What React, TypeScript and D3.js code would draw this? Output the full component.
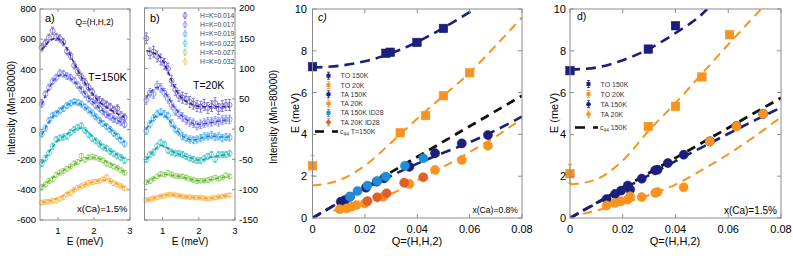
import React from "react";
import * as d3 from "d3";

const FONT = "'Liberation Sans', Arial, Helvetica, sans-serif";

// ---------- Panels a / b : constant-Q scans ----------
const energy = [0.55, 0.65, 0.75, 0.85, 0.95, 1.05, 1.15, 1.25, 1.35, 1.45, 1.55, 1.65, 1.75, 1.85, 1.95, 2.05, 2.15, 2.25, 2.35, 2.45, 2.55, 2.65, 2.75, 2.85];
const hkLabels = ["H=K=0.014", "H=K=0.017", "H=K=0.019", "H=K=0.022", "H=K=0.027", "H=K=0.032"];
const markerColors = ["#6a5ac6", "#7c80f0", "#4eaef0", "#45c8c8", "#95d266", "#f9ba55"];
const fitColors = ["#35279a", "#4449d6", "#1c84d8", "#17a3ab", "#60b43a", "#f3a02c"];

// T = 150 K (panel a)
const a014 = [545, 575, 610, 655, 615, 605, 580, 520, 490, 425, 385, 350, 315, 280, 250, 205, 195, 180, 165, 150, 130, 140, 95, 80];
const a017 = [170, 235, 280, 320, 345, 375, 370, 355, 345, 325, 295, 265, 235, 205, 185, 160, 140, 120, 100, 85, 70, 60, 50, 35];
const a019 = [-30, 10, 60, 95, 105, 125, 140, 160, 175, 185, 180, 170, 150, 130, 110, 85, 60, 40, 20, 0, -25, -45, -70, -95];
const a022 = [-225, -190, -155, -110, -65, -55, -50, -45, -20, 0, 15, 25, -5, -35, -60, -75, -95, -115, -125, -145, -160, -175, -185, -205];
const a027 = [-380, -365, -340, -330, -300, -285, -275, -260, -245, -225, -215, -175, -200, -185, -180, -185, -195, -205, -225, -235, -245, -255, -270, -285];
const a032 = [-485, -480, -478, -472, -470, -460, -450, -430, -420, -400, -385, -375, -365, -355, -350, -345, -340, -330, -315, -340, -355, -365, -375, -390];
const fitA014 = [530, 560, 585, 600, 605, 598, 575, 535, 490, 440, 395, 350, 310, 275, 240, 210, 185, 165, 148, 132, 118, 105, 92, 80];
const fitA017 = [165, 225, 275, 315, 345, 360, 362, 355, 340, 320, 295, 268, 240, 212, 188, 165, 142, 122, 104, 88, 74, 62, 50, 40];
const fitA019 = [-35, 10, 50, 85, 110, 130, 148, 162, 172, 178, 176, 165, 148, 128, 108, 86, 64, 44, 24, 4, -18, -40, -62, -85];
const fitA022 = [-225, -190, -150, -115, -85, -60, -45, -30, -15, -2, 8, 10, 0, -20, -45, -70, -92, -112, -128, -142, -155, -168, -180, -195];
const fitA027 = [-380, -360, -340, -320, -302, -287, -272, -258, -244, -230, -216, -204, -195, -188, -185, -187, -193, -202, -213, -226, -240, -254, -268, -282];
const fitA032 = [-485, -480, -475, -468, -460, -450, -438, -425, -412, -398, -386, -375, -365, -356, -349, -343, -338, -335, -336, -342, -352, -362, -373, -385];
const errA = [24, 22, 20, 20, 16, 14];

// T = 20 K (panel b)
const b014 = [150, 125, 128, 120, 115, 108, 100, 80, 65, 55, 52, 50, 45, 42, 38, 37, 40, 35, 38, 43, 33, 38, 40, 40];
const b017 = [48, 60, 58, 72, 68, 60, 50, 40, 30, 25, 20, 15, 12, 10, 6, 8, 10, 12, 12, 14, 12, 15, 16, 16];
const b019 = [-3, 8, 18, 25, 28, 25, 22, 10, 0, -5, -12, -15, -17, -18, -17, -15, -12, -12, -10, -13, -12, -15, -13, -14];
const b022 = [-50, -42, -38, -28, -22, -25, -35, -38, -40, -40, -42, -45, -48, -50, -52, -52, -48, -45, -42, -50, -42, -42, -42, -40];
const b027 = [-88, -86, -82, -78, -74, -75, -72, -75, -77, -78, -78, -80, -82, -84, -86, -85, -85, -84, -82, -80, -82, -80, -76, -78];
const b032 = [-117, -116, -114, -113, -111, -110, -108, -108, -109, -110, -111, -112, -112, -113, -113, -113, -114, -115, -114, -113, -112, -111, -110, -109];
const fitB014 = [130, 128, 126, 123, 118, 108, 95, 80, 67, 57, 50, 46, 43, 40, 38, 37, 37, 37, 37, 37, 37, 37, 37, 37];
const fitB017 = [52, 60, 66, 69, 68, 62, 53, 43, 34, 27, 21, 16, 12, 9, 8, 8, 9, 10, 11, 12, 13, 14, 15, 15];
const fitB019 = [0, 10, 18, 23, 25, 23, 17, 9, 1, -6, -11, -15, -17, -18, -17, -15, -13, -12, -12, -12, -13, -13, -13, -13];
const fitB022 = [-50, -43, -36, -30, -27, -28, -32, -36, -39, -41, -43, -45, -47, -49, -51, -51, -50, -48, -46, -45, -44, -43, -42, -41];
const fitB027 = [-88, -85, -81, -78, -76, -75, -75, -76, -77, -78, -79, -81, -82, -84, -85, -85, -85, -84, -83, -82, -81, -80, -79, -78];
const fitB032 = [-117, -116, -114, -112, -110, -109, -108, -108, -109, -110, -111, -112, -112, -113, -113, -113, -114, -114, -114, -113, -112, -111, -110, -109];
const errB = [9, 7, 6, 5, 3.5, 2.5];

// ---------- Panel c : x(Ca) = 0.8% ----------
const fitQ = [0, 0.01, 0.02, 0.03, 0.04, 0.05, 0.06, 0.07, 0.08];
const cTO150Q = [0, 0.028, 0.0297, 0.0399, 0.05];
const cTO150E = [7.24, 7.88, 7.93, 8.4, 9.07];
const cTO20Q = [0, 0.0335, 0.0432, 0.05, 0.06];
const cTO20E = [2.5, 4.08, 4.9, 5.85, 6.95];
const cTO20Err = [0.48, 0.12, 0.12, 0.12, 0.12];
const cTA150Q = [0.0108, 0.0124, 0.0143, 0.0204, 0.0245, 0.0273, 0.037, 0.0468, 0.057, 0.067];
const cTA150E = [0.78, 0.86, 1.02, 1.45, 1.74, 1.9, 2.45, 3.1, 3.57, 3.97];
const cTA20Q = [0.0104, 0.013, 0.0149, 0.0168, 0.02, 0.027, 0.037, 0.0468, 0.057, 0.067];
const cTA20E = [0.42, 0.46, 0.54, 0.62, 0.7, 1.02, 1.63, 2.3, 2.78, 3.46];
const cID150Q = [0.0143, 0.0172, 0.021, 0.0247, 0.028, 0.0353, 0.0423];
const cID150E = [1.02, 1.29, 1.55, 1.77, 1.98, 2.5, 2.86];
const cID20Q = [0.021, 0.0247, 0.0283, 0.035, 0.0423];
const cID20E = [0.81, 0.99, 1.18, 1.69, 1.95];
const cFitTO150Q = [0, 0.01, 0.02, 0.03, 0.04, 0.05, 0.06, 0.0625];
const cFitTO150E = [7.2, 7.28, 7.5, 7.88, 8.42, 9.1, 9.85, 10.05];
const cFitTO20E = [1.55, 1.8, 2.5, 3.6, 4.75, 5.85, 6.95, 8.25, 9.6];
const cFitTA150E = [0, 0.73, 1.42, 2.02, 2.6, 3.12, 3.62, 4.2, 4.85];
const cFitTA20Q = [0.008, 0.02, 0.03, 0.04, 0.05, 0.06, 0.07, 0.08];
const cFitTA20E = [0.35, 0.72, 1.15, 1.8, 2.45, 3.15, 3.9, 4.75];
const cC44Q = [0, 0.08];
const cC44E = [0, 5.85];
const cLegend = ["TO 150K", "TO 20K", "TA 150K", "TA 20K", "TA 150K ID28", "TA 20K ID28"];

// ---------- Panel d : x(Ca) = 1.5% ----------
const dTO150Q = [0, 0.0297, 0.04];
const dTO150E = [7.05, 8.08, 9.2];
const dTO20Q = [0, 0.0297, 0.04, 0.05, 0.0605];
const dTO20E = [2.12, 4.38, 5.34, 6.75, 8.77];
const dTO20Err = [0.45, 0.12, 0.12, 0.12, 0.12];
const dTA150Q = [0.0139, 0.0171, 0.0194, 0.0219, 0.0228, 0.0272, 0.0323, 0.0332, 0.0371, 0.0431, 0.053, 0.0631, 0.0732];
const dTA150E = [0.91, 1.15, 1.31, 1.55, 1.36, 1.88, 2.28, 2.31, 2.63, 3.03, 3.67, 4.4, 4.98];
const dTA20Q = [0.0139, 0.0171, 0.0194, 0.0219, 0.0228, 0.0272, 0.0323, 0.0332, 0.0431, 0.053, 0.0631, 0.0732];
const dTA20E = [0.6, 0.72, 0.8, 0.88, 1.04, 1.0, 1.2, 1.24, 1.47, 3.67, 4.38, 4.98];
const dFitTO150Q = [0, 0.01, 0.02, 0.03, 0.04, 0.05, 0.052];
const dFitTO150E = [7.1, 7.2, 7.55, 8.1, 8.85, 9.75, 10.0];
const dFitTO20Q = [0, 0.01, 0.02, 0.03, 0.04, 0.05, 0.06, 0.0725];
const dFitTO20E = [1.6, 1.85, 2.75, 4.2, 5.5, 6.9, 8.3, 10.0];
const dFitTA150E = [0, 0.7, 1.38, 2.05, 2.72, 3.38, 4.03, 4.67, 5.28];
const dFitTA20Q = [0.005, 0.01, 0.02, 0.03, 0.04, 0.05, 0.06, 0.07, 0.08];
const dFitTA20E = [0.2, 0.35, 0.7, 1.1, 1.6, 2.3, 3.05, 3.9, 4.83];
const dC44Q = [0, 0.08];
const dC44E = [0, 5.75];
const dLegend = ["TO 150K", "TO 20K", "TA 150K", "TA 20K"];

const NAVY = "#1b1f7c";
const ORANGE = "#f8931f";
const LBLUE = "#1f8dd6";
const RED = "#df5f26";
const AXIS = "#8c8c8c";

type Sc = d3.ScaleLinear<number, number>;

function Frame({ xs, ys, xTicks, yTicks, len }: { xs: Sc; ys: Sc; xTicks: number[]; yTicks: number[]; len: number }) {
  const [x0, x1] = xs.range();
  const [y1, y0] = ys.range();
  return (
    <g stroke={AXIS} strokeWidth={1} fill="none">
      <rect x={x0} y={y0} width={x1 - x0} height={y1 - y0} />
      {xTicks.map((t, i) => (
        <g key={"x" + i}>
          <line x1={xs(t)} x2={xs(t)} y1={y1} y2={y1 - len} />
          <line x1={xs(t)} x2={xs(t)} y1={y0} y2={y0 + len} />
        </g>
      ))}
      {yTicks.map((t, i) => (
        <g key={"y" + i}>
          <line x1={x0} x2={x0 + len} y1={ys(t)} y2={ys(t)} />
          <line x1={x1} x2={x1 - len} y1={ys(t)} y2={ys(t)} />
        </g>
      ))}
    </g>
  );
}

function ScanPanel({ xs, ys, data, fits, errs, id }: { xs: Sc; ys: Sc; data: number[][]; fits: number[][]; errs: number[]; id: string }) {
  const line = d3.line<number>().x((_, i) => xs(energy[i])).y((v) => ys(v)).curve(d3.curveMonotoneX);
  return (
    <g>
      {data.map((ser, s) => (
        <g key={id + s} stroke={markerColors[s]} fill="none" strokeWidth={0.8}>
          {ser.map((v, i) => {
            const cx = xs(energy[i]);
            const cy = ys(v);
            const e = Math.abs(ys(v + errs[s]) - cy);
            return (
              <g key={i}>
                <line x1={cx} x2={cx} y1={cy - e} y2={cy + e} />
                <line x1={cx - 1.5} x2={cx + 1.5} y1={cy - e} y2={cy - e} />
                <line x1={cx - 1.5} x2={cx + 1.5} y1={cy + e} y2={cy + e} />
                <circle cx={cx} cy={cy} r={2.5} />
              </g>
            );
          })}
        </g>
      ))}
      {fits.map((f, s) => (
        <path key={"f" + s} d={line(f) || ""} stroke={fitColors[s]} strokeWidth={1.6} strokeDasharray="4 2.5" fill="none" />
      ))}
    </g>
  );
}

function Dots({ xs, ys, q, e, color, shape, err }: { xs: Sc; ys: Sc; q: number[]; e: number[]; color: string; shape: "sq" | "ci"; err?: number[] }) {
  return (
    <g fill={color} stroke={color}>
      {q.map((v, i) => {
        const cx = xs(v);
        const cy = ys(e[i]);
        const er = err ? Math.abs(ys(e[i] + err[i]) - cy) : 0;
        return (
          <g key={i}>
            {er > 0 && (
              <g strokeWidth={1}>
                <line x1={cx} x2={cx} y1={cy - er} y2={cy + er} />
                <line x1={cx - 2} x2={cx + 2} y1={cy - er} y2={cy - er} />
                <line x1={cx - 2} x2={cx + 2} y1={cy + er} y2={cy + er} />
              </g>
            )}
            {shape === "sq" ? (
              <rect x={cx - 4.3} y={cy - 4.3} width={8.6} height={8.6} strokeWidth={0.5} />
            ) : (
              <circle cx={cx} cy={cy} r={4.6} strokeWidth={0.5} />
            )}
          </g>
        );
      })}
    </g>
  );
}

function Curve({ xs, ys, q, e, color, width, dash, clip }: { xs: Sc; ys: Sc; q: number[]; e: number[]; color: string; width: number; dash: string; clip: string }) {
  const line = d3.line<number>().x((v) => xs(v)).y((_, i) => ys(e[i])).curve(d3.curveMonotoneX);
  return <path d={line(q) || ""} stroke={color} strokeWidth={width} strokeDasharray={dash} fill="none" clipPath={`url(#${clip})`} />;
}

function LegendRow({ x, y, color, shape, label }: { x: number; y: number; color: string; shape: "sq" | "ci"; label: string }) {
  return (
    <g>
      <g stroke={color} strokeWidth={0.8}>
        <line x1={x} x2={x} y1={y - 3.5} y2={y + 3.5} />
        <line x1={x - 1.5} x2={x + 1.5} y1={y - 3.5} y2={y - 3.5} />
        <line x1={x - 1.5} x2={x + 1.5} y1={y + 3.5} y2={y + 3.5} />
      </g>
      {shape === "sq" ? (
        <rect x={x - 2} y={y - 2} width={4} height={4} fill={color} />
      ) : (
        <circle cx={x} cy={y} r={2.3} fill={color} />
      )}
      <text x={x + 12} y={y + 2.5} fontSize={7} fill="#333" fontFamily={FONT}>{label}</text>
    </g>
  );
}

export default function App() {
  const xsA = d3.scaleLinear().domain([0.5, 3]).range([40, 130]);
  const ysA = d3.scaleLinear().domain([-600, 800]).range([220, 9]);
  const xsB = d3.scaleLinear().domain([0.5, 3]).range([144.5, 235]);
  const ysB = d3.scaleLinear().domain([-150, 200]).range([220, 8]);
  const xsC = d3.scaleLinear().domain([0, 0.08]).range([312.5, 522]);
  const ysC = d3.scaleLinear().domain([0, 10]).range([218, 9]);
  const xsD = d3.scaleLinear().domain([0, 0.08]).range([570, 781]);
  const ysD = d3.scaleLinear().domain([0, 10]).range([218, 9]);

  const yTicksA = d3.range(-600, 801, 200);
  const yTicksB = d3.range(-150, 201, 50);
  const eTicks = [1, 2, 3];
  const qTicks = [0, 0.02, 0.04, 0.06, 0.08];
  const eTicksC = [0, 2, 4, 6, 8, 10];
  const fmtQ = (v: number) => (v === 0 ? "0" : d3.format(".2f")(v));

  const dataA = [a014, a017, a019, a022, a027, a032];
  const fitsA = [fitA014, fitA017, fitA019, fitA022, fitA027, fitA032];
  const dataB = [b014, b017, b019, b022, b027, b032];
  const fitsB = [fitB014, fitB017, fitB019, fitB022, fitB027, fitB032];

  const cColors = [NAVY, ORANGE, NAVY, ORANGE, LBLUE, RED];
  const cShapes: ("sq" | "ci")[] = ["sq", "sq", "ci", "ci", "ci", "ci"];

  return (
    <svg width={793} height={256} style={{ position: "absolute", left: 0, top: 0, display: "block" }} fontFamily={FONT}>
      <defs>
        <clipPath id="clipC"><rect x={312.5} y={9} width={209.5} height={209} /></clipPath>
        <clipPath id="clipD"><rect x={570} y={9} width={211} height={209} /></clipPath>
      </defs>
      <rect x={0} y={0} width={793} height={256} fill="#fff" />

      {/* ---- Panel a ---- */}
      <ScanPanel xs={xsA} ys={ysA} data={dataA} fits={fitsA} errs={errA} id="a" />
      <Frame xs={xsA} ys={ysA} xTicks={eTicks} yTicks={yTicksA} len={3} />
      {yTicksA.map((t) => (
        <text key={t} x={36} y={ysA(t) + 3.3} fontSize={9.5} textAnchor="end">{t}</text>
      ))}
      {eTicks.map((t) => (
        <text key={t} x={xsA(t)} y={233.5} fontSize={9.5} textAnchor="middle">{t}</text>
      ))}
      <text x={85} y={245} fontSize={10} textAnchor="middle">E (meV)</text>
      <text transform="translate(14.5,108) rotate(-90)" fontSize={10} textAnchor="middle">Intensity (Mn=80000)</text>
      <text x={45} y={22} fontSize={11}>a)</text>
      <text x={75.5} y={25} fontSize={8.3}>Q=(H,H,2)</text>
      <text x={88} y={81} fontSize={11}>T=150K</text>
      <text x={77} y={212} fontSize={9.5}>x(Ca)=1.5%</text>

      {/* ---- Panel b ---- */}
      <ScanPanel xs={xsB} ys={ysB} data={dataB} fits={fitsB} errs={errB} id="b" />
      <Frame xs={xsB} ys={ysB} xTicks={eTicks} yTicks={yTicksB} len={3} />
      {yTicksB.map((t) => (
        <text key={t} x={239} y={ysB(t) + 3.3} fontSize={9.5} textAnchor="start">{t}</text>
      ))}
      {eTicks.map((t) => (
        <text key={t} x={xsB(t)} y={233.5} fontSize={9.5} textAnchor="middle">{t}</text>
      ))}
      <text x={190} y={245} fontSize={10} textAnchor="middle">E (meV)</text>
      <text transform="translate(277,117) rotate(-90)" fontSize={10} textAnchor="middle">Intensity (Mn=80000)</text>
      <text x={150} y={22} fontSize={11}>b)</text>
      <text x={193} y={89} fontSize={10.5}>T=20K</text>
      {hkLabels.map((lab, i) => {
        const y = 15.5 + i * 9.2;
        const x = 185;
        const c = markerColors[i];
        return (
          <g key={lab}>
            <g stroke={c} strokeWidth={0.7} fill="none">
              <line x1={x} x2={x} y1={y - 3.2} y2={y + 3.2} />
              <line x1={x - 1.3} x2={x + 1.3} y1={y - 3.2} y2={y - 3.2} />
              <line x1={x - 1.3} x2={x + 1.3} y1={y + 3.2} y2={y + 3.2} />
              <circle cx={x} cy={y} r={2} />
            </g>
            <text x={200} y={y + 2.4} fontSize={6.8} fill="#444">{lab}</text>
          </g>
        );
      })}

      {/* ---- Panel c ---- */}
      <Curve xs={xsC} ys={ysC} q={cC44Q} e={cC44E} color="#111" width={2.8} dash="9 6" clip="clipC" />
      <Curve xs={xsC} ys={ysC} q={cFitTO150Q} e={cFitTO150E} color={NAVY} width={2.6} dash="10 6" clip="clipC" />
      <Curve xs={xsC} ys={ysC} q={fitQ} e={cFitTO20E} color={ORANGE} width={2} dash="9 6" clip="clipC" />
      <Curve xs={xsC} ys={ysC} q={fitQ} e={cFitTA150E} color={NAVY} width={2.6} dash="10 6" clip="clipC" />
      <Curve xs={xsC} ys={ysC} q={cFitTA20Q} e={cFitTA20E} color={ORANGE} width={2} dash="9 6" clip="clipC" />
      <Dots xs={xsC} ys={ysC} q={cTO150Q} e={cTO150E} color={NAVY} shape="sq" />
      <Dots xs={xsC} ys={ysC} q={cTO20Q} e={cTO20E} color={ORANGE} shape="sq" err={cTO20Err} />
      <Dots xs={xsC} ys={ysC} q={cTA150Q} e={cTA150E} color={NAVY} shape="ci" />
      <Dots xs={xsC} ys={ysC} q={cTA20Q} e={cTA20E} color={ORANGE} shape="ci" />
      <Dots xs={xsC} ys={ysC} q={cID150Q} e={cID150E} color={LBLUE} shape="ci" />
      <Dots xs={xsC} ys={ysC} q={cID20Q} e={cID20E} color={RED} shape="ci" />
      <Frame xs={xsC} ys={ysC} xTicks={qTicks} yTicks={eTicksC} len={4} />
      {eTicksC.map((t) => (
        <text key={t} x={307} y={ysC(t) + 4} fontSize={11} textAnchor="end">{t}</text>
      ))}
      {qTicks.map((t) => (
        <text key={t} x={xsC(t)} y={232.5} fontSize={11} textAnchor="middle">{fmtQ(t)}</text>
      ))}
      <text x={417} y={245} fontSize={11} textAnchor="middle">Q=(H,H,2)</text>
      <text transform="translate(298.5,113) rotate(-90)" fontSize={11} textAnchor="middle">E (meV)</text>
      <text x={318} y={21} fontSize={10.5} fontStyle="italic">c)</text>
      <text x={518} y={213} fontSize={8.6} textAnchor="end">x(Ca)=0.8%</text>
      {cLegend.map((lab, i) => (
        <LegendRow key={lab} x={328.5} y={75.7 + i * 9.3} color={cColors[i]} shape={cShapes[i]} label={lab} />
      ))}
      <g stroke="#111" strokeWidth={2.6}>
        <line x1={315} x2={324} y1={131.5} y2={131.5} />
        <line x1={332} x2={338} y1={131.5} y2={131.5} />
      </g>
      <text x={340} y={133.5} fontSize={7} fill="#333">c<tspan dy={2} fontSize={4.8}>44</tspan><tspan dy={-2} fontSize={7}> T=150K</tspan></text>

      {/* ---- Panel d ---- */}
      <Curve xs={xsD} ys={ysD} q={dC44Q} e={dC44E} color="#111" width={2.8} dash="9 6" clip="clipD" />
      <Curve xs={xsD} ys={ysD} q={dFitTO150Q} e={dFitTO150E} color={NAVY} width={2.6} dash="10 6" clip="clipD" />
      <Curve xs={xsD} ys={ysD} q={dFitTO20Q} e={dFitTO20E} color={ORANGE} width={2} dash="9 6" clip="clipD" />
      <Curve xs={xsD} ys={ysD} q={fitQ} e={dFitTA150E} color={NAVY} width={2.6} dash="10 6" clip="clipD" />
      <Curve xs={xsD} ys={ysD} q={dFitTA20Q} e={dFitTA20E} color={ORANGE} width={2} dash="9 6" clip="clipD" />
      <Dots xs={xsD} ys={ysD} q={dTO150Q} e={dTO150E} color={NAVY} shape="sq" />
      <Dots xs={xsD} ys={ysD} q={dTO20Q} e={dTO20E} color={ORANGE} shape="sq" err={dTO20Err} />
      <Dots xs={xsD} ys={ysD} q={dTA150Q} e={dTA150E} color={NAVY} shape="ci" />
      <Dots xs={xsD} ys={ysD} q={dTA20Q} e={dTA20E} color={ORANGE} shape="ci" />
      <Frame xs={xsD} ys={ysD} xTicks={qTicks} yTicks={eTicksC} len={4} />
      {eTicksC.map((t) => (
        <text key={t} x={566} y={ysD(t) + 4} fontSize={11} textAnchor="end">{t}</text>
      ))}
      {qTicks.map((t) => (
        <text key={t} x={xsD(t)} y={232.5} fontSize={11} textAnchor="middle">{fmtQ(t)}</text>
      ))}
      <text x={675} y={245} fontSize={11} textAnchor="middle">Q=(H,H,2)</text>
      <text transform="translate(557.5,113) rotate(-90)" fontSize={11} textAnchor="middle">E (meV)</text>
      <text x={577} y={20} fontSize={10.5}>d)</text>
      <text x={777} y={214} fontSize={10} textAnchor="end">x(Ca)=1.5%</text>
      {dLegend.map((lab, i) => (
        <LegendRow key={lab} x={588.5} y={84 + i * 10.1} color={cColors[i]} shape={cShapes[i]} label={lab} />
      ))}
      <g stroke="#111" strokeWidth={2.6}>
        <line x1={575} x2={585} y1={127.5} y2={127.5} />
        <line x1={593} x2={598} y1={127.5} y2={127.5} />
      </g>
      <text x={600} y={129.5} fontSize={7} fill="#333">c<tspan dy={2} fontSize={4.8}>44</tspan><tspan dy={-2} fontSize={7}> 150K</tspan></text>
    </svg>
  );
}
